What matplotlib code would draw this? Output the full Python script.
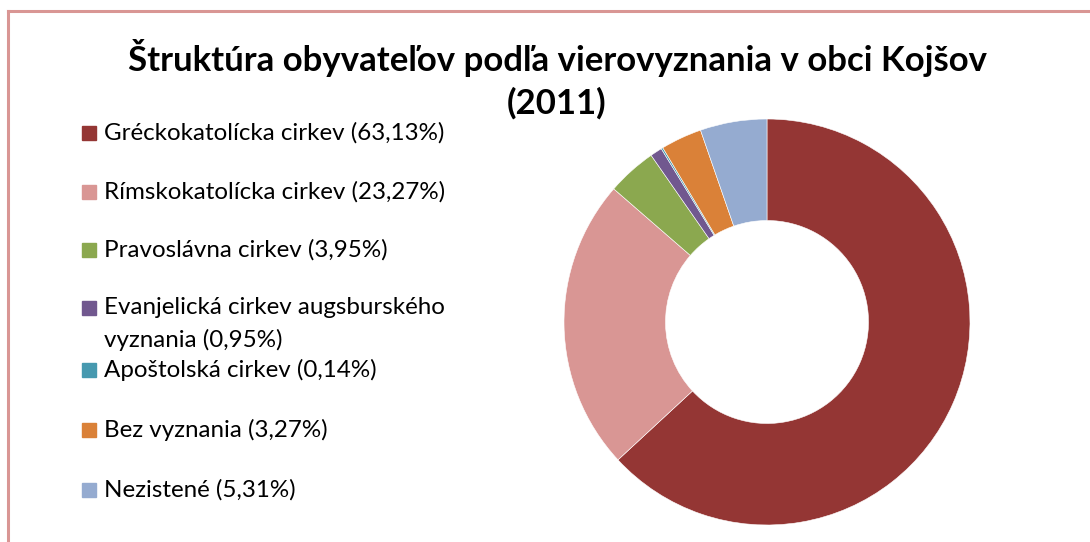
import matplotlib.pyplot as plt
from matplotlib.lines import Line2D
from matplotlib.patches import Rectangle

kategorie = ["Gréckokatolícka cirkev", "Rímskokatolícka cirkev", "Pravoslávna cirkev",
             "Evanjelická cirkev augsburského\nvyznania", "Apoštolská cirkev",
             "Bez vyznania", "Nezistené"]
podiely = [63.13, 23.27, 3.95, 0.95, 0.14, 3.27, 5.31]
farby = ["#943634", "#D99694", "#8BA84F", "#71588F", "#4699AF", "#DA8138", "#95ABD0"]

W, H = 1090, 542
fig = plt.figure(figsize=(W / 100, H / 100), dpi=100)
plt.rcParams['font.family'] = ['Lato', 'DejaVu Sans']

# ramik okolo grafu
fig.add_artist(Line2D([8 / W, 1], [1 - 11 / H, 1 - 11 / H], color="#D99694", lw=2.2))
fig.add_artist(Line2D([8 / W, 8 / W], [0, 1 - 11 / H], color="#D99694", lw=2.2))

# donut
cx, cy, r = 767, 322, 203
ax = fig.add_axes([(cx - r) / W, (H - cy - r) / H, 2 * r / W, 2 * r / H])
ax.pie(podiely, colors=farby, startangle=90, counterclock=False,
       wedgeprops=dict(width=0.5, edgecolor="white", linewidth=0.4))
ax.set_xlim(-1, 1)
ax.set_ylim(-1, 1)
ax.set_aspect("equal")

fig.text(557 / W, 1 - 58 / H, "Štruktúra obyvateľov podľa vierovyznania v obci Kojšov",
         ha="center", va="center", fontsize=25, fontweight="bold")
fig.text(557 / W, 1 - 103 / H, "(2011)", ha="center", va="center", fontsize=25, fontweight="bold")

# legenda
ypos = [133, 192, 250, 308, 370, 430, 490]
for kat, p, f, y in zip(kategorie, podiely, farby, ypos):
    lab = f"{kat} ({p:.2f}%)".replace(".", ",")
    fig.add_artist(Rectangle((82 / W, 1 - (y + 7) / H), 14 / W, 14 / H,
                             color=f, transform=fig.transFigure))
    for i, riadok in enumerate(lab.split("\n")):
        fig.text(104 / W, 1 - (y + 32 * i) / H, riadok, ha="left", va="center",
                 fontsize=17.4)

fig.savefig("out.png", dpi=100)
